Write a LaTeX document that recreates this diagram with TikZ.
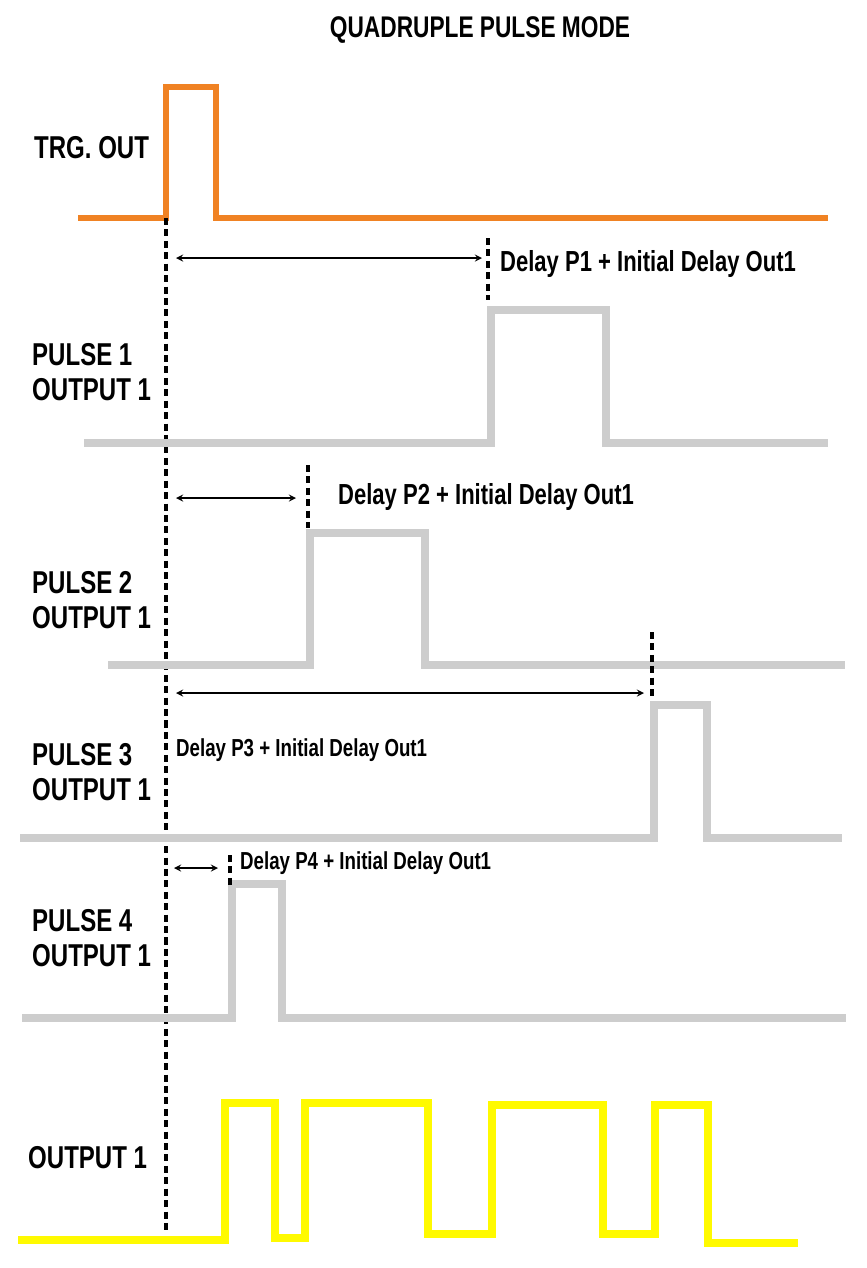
\documentclass[tikz,border=0pt]{standalone}
\usepackage{fontspec}
\setmainfont{Liberation Sans}
\usepackage{graphicx}
\definecolor{trgorange}{RGB}{240,130,35}
\definecolor{pulsegray}{RGB}{205,205,205}
\definecolor{outyellow}{RGB}{255,250,0}
\newcommand{\nar}[1]{\scalebox{0.76}[1]{#1}}
\tikzset{
  lbl/.style={anchor=west,font=\fontsize{18}{21}\selectfont\bfseries,align=left},
  dly/.style={anchor=west,font=\fontsize{16.5}{19}\selectfont\bfseries},
  sig/.style={line width=4.5pt,line join=miter},
  tick/.style={dash pattern=on 4pt off 2.5pt,line width=2pt},
  span/.style={<->,>=stealth,line width=0.8pt}
}
\begin{document}
\begin{tikzpicture}[x=0.02cm,y=-0.02cm]
\useasboundingbox (0,0) rectangle (866,1268);

\node (title) at (480,30) {\fontsize{17}{19}\selectfont\bfseries\nar{QUADRUPLE PULSE MODE}};

% trigger
\draw [sig,trgorange,line width=3.5pt] (78,218) -- (166,218) -- (166,87) -- (216,87) -- (216,218) -- (828,218);
\node [lbl] (ltrg) at (28,148) {\nar{TRG. OUT}};

% reference line
\coordinate (r0) at (166,218);
\coordinate (r1) at (166,1232);
\draw [tick] (r0) -- (r1);

% pulse 1
\draw [sig,pulsegray] (84,443) -- (491,443) -- (491,310) -- (606,310) -- (606,443) -- (828,443);
\node [lbl] (lp1) at (26,372) {\nar{PULSE 1}\\[-1pt]\nar{OUTPUT 1}};
\coordinate (t1a) at (488,238); \coordinate (t1b) at (488,300);
\draw [tick] (t1a) -- (t1b);
\coordinate (a1) at (176,258); \coordinate (b1) at (482,258);
\draw [span] (a1) -- (b1);
\node [dly] (d1) at (494,264) {\nar{Delay P1 + Initial Delay Out1}};

% pulse 2
\draw [sig,pulsegray] (108,665) -- (310,665) -- (310,533) -- (425,533) -- (425,665) -- (845,665);
\node [lbl] (lp2) at (26,600) {\nar{PULSE 2}\\[-1pt]\nar{OUTPUT 1}};
\coordinate (t2a) at (308,465); \coordinate (t2b) at (308,528);
\draw [tick] (t2a) -- (t2b);
\coordinate (a2) at (176,498); \coordinate (b2) at (296,498);
\draw [span] (a2) -- (b2);
\node [dly] (d2) at (332,497) {\nar{Delay P2 + Initial Delay Out1}};

% pulse 3
\draw [sig,pulsegray] (20,838) -- (654,838) -- (654,705) -- (707,705) -- (707,838) -- (842,838);
\node [lbl] (lp3) at (26,772) {\nar{PULSE 3}\\[-1pt]\nar{OUTPUT 1}};
\coordinate (t3a) at (652,632); \coordinate (t3b) at (652,700);
\draw [tick] (t3a) -- (t3b);
\coordinate (a3) at (176,693); \coordinate (b3) at (644,693);
\draw [span] (a3) -- (b3);
\node [dly,font=\fontsize{14}{16}\selectfont\bfseries] (d3) at (170,750) {\nar{Delay P3 + Initial Delay Out1}};

% pulse 4
\draw [sig,pulsegray] (22,1018) -- (232,1018) -- (232,884) -- (282,884) -- (282,1018) -- (846,1018);
\node [lbl] (lp4) at (26,938) {\nar{PULSE 4}\\[-1pt]\nar{OUTPUT 1}};
\coordinate (t4a) at (230,855); \coordinate (t4b) at (230,885);
\draw [tick] (t4a) -- (t4b);
\coordinate (a4) at (174,868); \coordinate (b4) at (218,868);
\draw [span] (a4) -- (b4);
\node [dly,font=\fontsize{14}{16}\selectfont\bfseries] (d4) at (234,863) {\nar{Delay P4 + Initial Delay Out1}};

% combined output
\draw [sig,outyellow] (18,1240) -- (225,1240) -- (225,1103) -- (275,1103) -- (275,1238) -- (305,1238)
  -- (305,1103) -- (428,1103) -- (428,1234) -- (492,1234) -- (492,1105) -- (603,1105)
  -- (603,1234) -- (655,1234) -- (655,1105) -- (708,1105) -- (708,1243) -- (798,1243);
\node [lbl] (lout) at (22,1158) {\nar{OUTPUT 1}};
\end{tikzpicture}
\end{document}
